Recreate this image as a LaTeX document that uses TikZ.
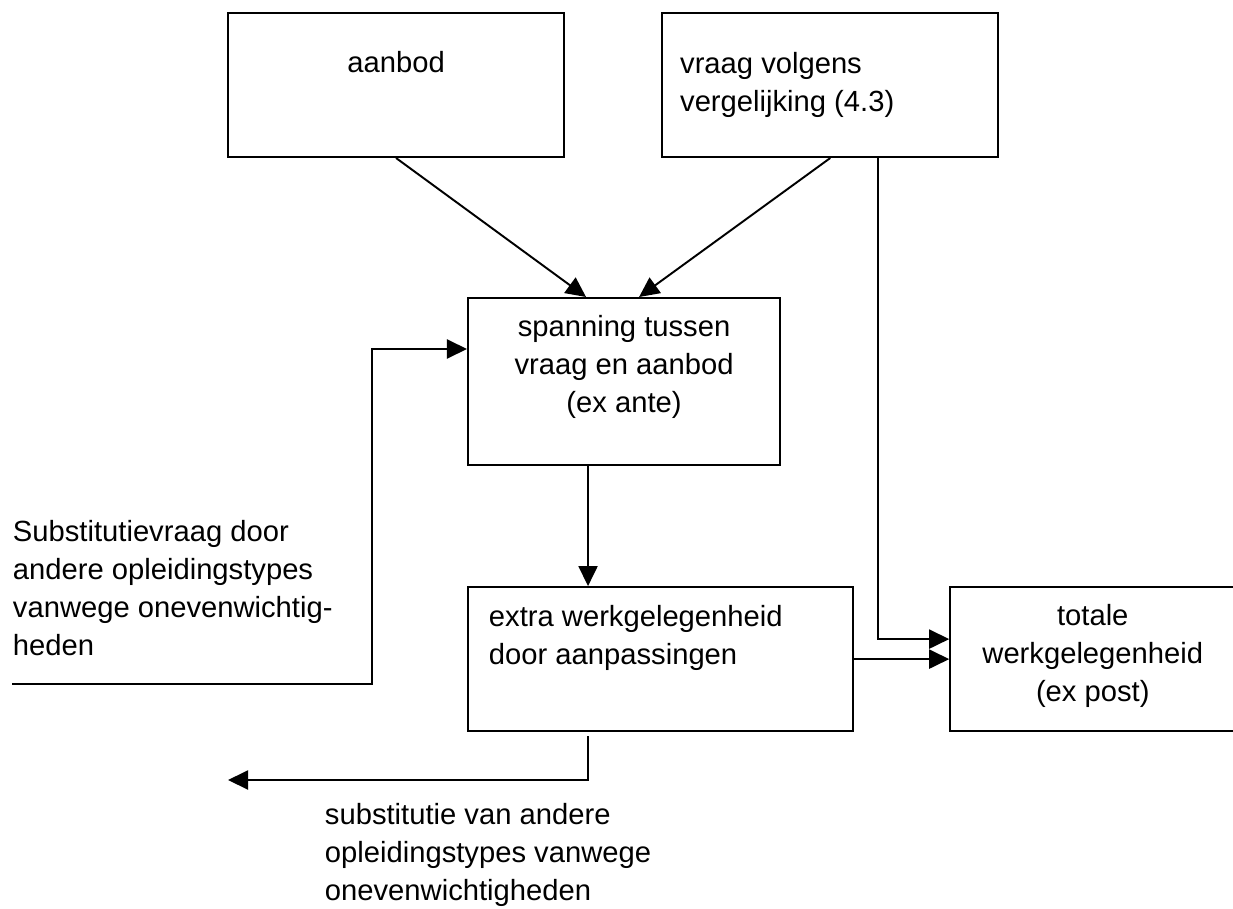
\documentclass[tikz,border=0pt]{standalone}
\usepackage{fontspec}
\setmainfont{Liberation Sans}
\usetikzlibrary{arrows.meta, positioning}

\tikzset{
  flowbox/.style={draw, inner sep=0pt, minimum height=1.44cm, anchor=north west},
  boxtext/.style={inner sep=0pt, font=\fontsize{8.3}{10.8}\selectfont},
  flowarrow/.style={-{Triangle[length=0.2cm, width=0.19cm]}},
}

\begin{document}
\begin{tikzpicture}[x=0.01cm, y=-0.01cm, line width=0.55pt]
            \useasboundingbox (0,0) rectangle (1233,909);

            % Boxes
            \node[flowbox, minimum width=3.36cm] (aanbod) at (227,12) {};
            \node[flowbox, minimum width=3.36cm, right=0.96cm of aanbod.north east, anchor=north west] (vraag) {};
            \node[flowbox, minimum width=3.12cm, minimum height=1.67cm] (spanning) at (467,297) {};
            \node[flowbox, minimum width=3.85cm, below=1.2cm of spanning.south west, anchor=north west] (extra) {};
            \node[flowbox, minimum width=2.85cm, right=0.95cm of extra.north east, anchor=north west] (totale) {};

            % Box texts
            \node[boxtext, anchor=north] (aanbodtxt) at ([yshift=-0.38cm]aanbod.north) {aanbod};
            \node[boxtext, anchor=north west, align=left] (vraagtxt) at ([xshift=0.18cm, yshift=-0.39cm]vraag.north west) {
                vraag volgens\\
                vergelijking (4.3)
            };
            \node[boxtext, anchor=north, align=center] (spanningtxt) at ([yshift=-0.17cm]spanning.north) {
                spanning tussen\\
                vraag en aanbod\\
                (ex ante)
            };
            \node[boxtext, anchor=north west, align=left] (extratxt) at ([xshift=0.21cm, yshift=-0.18cm]extra.north west) {
                extra werkgelegenheid\\
                door aanpassingen
            };
            \node[boxtext, anchor=north, align=center] (totaletxt) at ([yshift=-0.17cm]totale.north) {
                totale\\
                werkgelegenheid\\
                (ex post)
            };

            % Free texts
            \node[boxtext, anchor=north west, align=left] (subvraag) at (12,519) {
                Substitutievraag door\\
                andere opleidingstypes\\
                vanwege onevenwichtig-\\
                heden
            };
            \node[boxtext, anchor=north west, align=left] (subaanbod) at (324,802) {
                substitutie van andere\\
                opleidingstypes vanwege\\
                onevenwichtigheden
            };

            % Loose ends
            \coordinate (subin) at (12,684);
            \coordinate (subup) at (372,349);
            \coordinate (subout) at (228,780);

            % Connectors
            \draw[flowarrow] (aanbod.south) -- ([xshift=-0.38cm]spanning.north);
            \draw[flowarrow] (vraag.south) -- ([xshift=0.15cm]spanning.north);
            \draw[flowarrow] ([xshift=0.48cm]vraag.south) |- ([yshift=0.2cm]totale.west);
            \draw[flowarrow] ([xshift=-0.36cm]spanning.south) -- ([xshift=-0.36cm]spanning.south |- extra.north);
            \draw[flowarrow] (extra.east) -- (totale.west);
            \draw[flowarrow] (subin) -| (subup) -- (subup -| spanning.west);
            \draw[flowarrow] ([xshift=-0.725cm, yshift=-0.04cm]extra.south) |- (subout);
        \end{tikzpicture}
\end{document}
